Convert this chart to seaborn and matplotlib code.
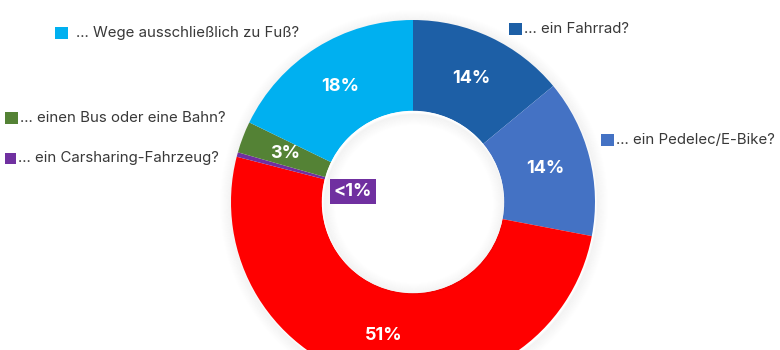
import numpy as np
import matplotlib.pyplot as plt
from matplotlib.patches import Circle
import seaborn as sns

# Data (clockwise from 12 o'clock)
categories = ['... ein Fahrrad?', '... ein Pedelec/E-Bike?', '... ein Auto?',
              '... ein Carsharing-Fahrzeug?', '... einen Bus oder eine Bahn?',
              '... Wege ausschließlich zu Fuß?']
values = [14.0, 14.0, 51.0, 0.4, 2.8, 17.8]
pct_labels = ['14%', '14%', '51%', '<1%', '3%', '18%']
show_in_legend = [True, True, False, True, True, True]

colors = sns.color_palette(['#1D5FA6', '#4472C4', '#FF0000', '#7030A0', '#548235', '#00B0F0'])

sns.set_style('white')
plt.rcParams['font.family'] = ['Inter', 'DejaVu Sans']

fig = plt.figure(figsize=(7.8, 3.5), dpi=100)
ax = fig.add_axes([0, 0, 1, 1])
ax.set_aspect('equal')

cx, cy = 413, 148
r_out, r_in = 182, 91

# soft shadow around the ring
for k in range(1, 12):
    a = 0.022 * (12 - k) / 11
    ax.add_patch(Circle((cx + 1, cy - 2), r_out + k, fill=False, lw=1.6,
                        edgecolor=(0, 0, 0, a), zorder=0))
    ax.add_patch(Circle((cx + 1, cy - 2), r_in - k, fill=False, lw=1.6,
                        edgecolor=(0, 0, 0, a), zorder=3))

wedges, _ = ax.pie(values, colors=colors, startangle=90, counterclock=False,
                   center=(cx, cy), radius=r_out, frame=True,
                   wedgeprops=dict(width=r_out - r_in, linewidth=0))
ax.set_xlim(0, 780)
ax.set_ylim(0, 350)
ax.axis('off')

# inner hole fill
ax.add_patch(Circle((cx, cy), r_in - 0.5, color='white', zorder=2))

for w, lab in zip(wedges, pct_labels):
    mid = np.deg2rad((w.theta1 + w.theta2) / 2)
    if lab == '<1%':
        r = 60
        ax.text(cx + r * np.cos(mid) - 2, cy + r * np.sin(mid) - 5, lab, ha='center', va='center',
                color='white', fontsize=13, fontweight='bold', zorder=5,
                bbox=dict(facecolor='#7030A0', edgecolor='none', pad=3))
    else:
        r = (r_out + r_in) / 2
        ax.text(cx + r * np.cos(mid), cy + r * np.sin(mid), lab, ha='center', va='center',
                color='white', fontsize=13, fontweight='bold', zorder=5)

# legend entries placed next to the ring
legend_pos = {
    '... ein Fahrrad?': (515, 321),
    '... ein Pedelec/E-Bike?': (607, 210),
    '... ein Carsharing-Fahrzeug?': (10, 192),
    '... einen Bus oder eine Bahn?': (11, 232),
    '... Wege ausschließlich zu Fuß?': (61, 317),
}
for cat, col, show in zip(categories, colors, show_in_legend):
    if not show:
        continue
    x, y = legend_pos[cat]
    size = 11 if 'Carsharing' in cat else 13
    ax.add_patch(plt.Rectangle((x - size / 2, y - 6), size, 12 if size == 13 else 11,
                               color=col, lw=0))
    gap = 8 if cat.startswith('... Wege') else 3
    ax.text(x + size / 2 + gap, y, cat, ha='left', va='center', fontsize=10.8, color='#383838')

fig.savefig('out.png', dpi=100)
